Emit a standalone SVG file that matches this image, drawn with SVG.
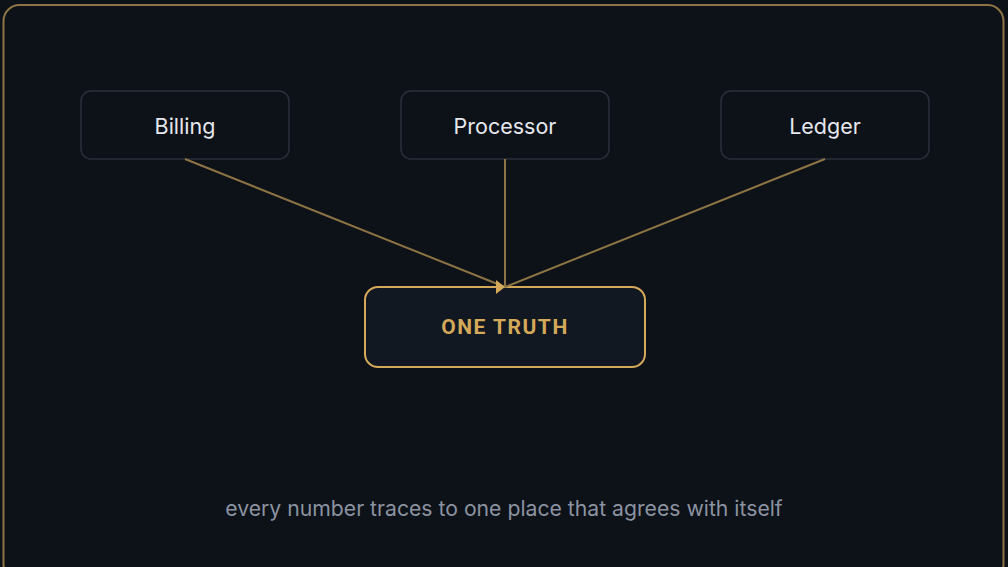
<svg xmlns="http://www.w3.org/2000/svg" width="1008" height="567" viewBox="0 0 1008 567">
<style>
.node rect{fill:#0d1118;stroke:#2a2f3b;stroke-width:1.5}
.node text{font-family:Inter,"Noto Sans",sans-serif;font-size:21.5px;fill:#e6e8ee;text-anchor:middle}
.conn{stroke:#8c7444;stroke-width:2;fill:none}
</style>
<defs>
<marker id="arr" viewBox="0 0 9 14" refX="9" refY="7" markerWidth="9" markerHeight="14" markerUnits="userSpaceOnUse" orient="0">
<path d="M0,0 L9,7 L0,14 Z" fill="#d4a95a"/>
</marker>
</defs>
<rect width="1008" height="567" fill="#0d1118"/>
<rect x="3.5" y="5" width="1000" height="575" rx="16" fill="none" stroke="#8c7444" stroke-width="2"/>
<g id="billing" class="node"><rect x="81" y="91" width="208" height="68" rx="10"/><text x="185" y="134">Billing</text></g>
<g id="processor" class="node"><rect x="401" y="91" width="208" height="68" rx="10"/><text x="505" y="134">Processor</text></g>
<g id="ledger" class="node"><rect x="721" y="91" width="208" height="68" rx="10"/><text x="825" y="134">Ledger</text></g>
<g id="truth"><rect x="365" y="287" width="280" height="80" rx="13" fill="#121821" stroke="#d4a95a" stroke-width="2"/><text x="505" y="334" font-family="Roboto,'Noto Sans',sans-serif" font-size="21" font-weight="700" letter-spacing="1.5" fill="#d4a95a" text-anchor="middle">ONE TRUTH</text></g>
<g id="connectors">
<line class="conn" x1="185" y1="159" x2="505" y2="287" marker-end="url(#arr)"/>
<line class="conn" x1="505" y1="159" x2="505" y2="287"/>
<line class="conn" x1="825" y1="159" x2="505" y2="287"/>
</g>
<text x="504" y="516" font-family="Inter,'Noto Sans',sans-serif" font-size="21.2" fill="#8b93a1" text-anchor="middle">every number traces to one place that agrees with itself</text>
</svg>
